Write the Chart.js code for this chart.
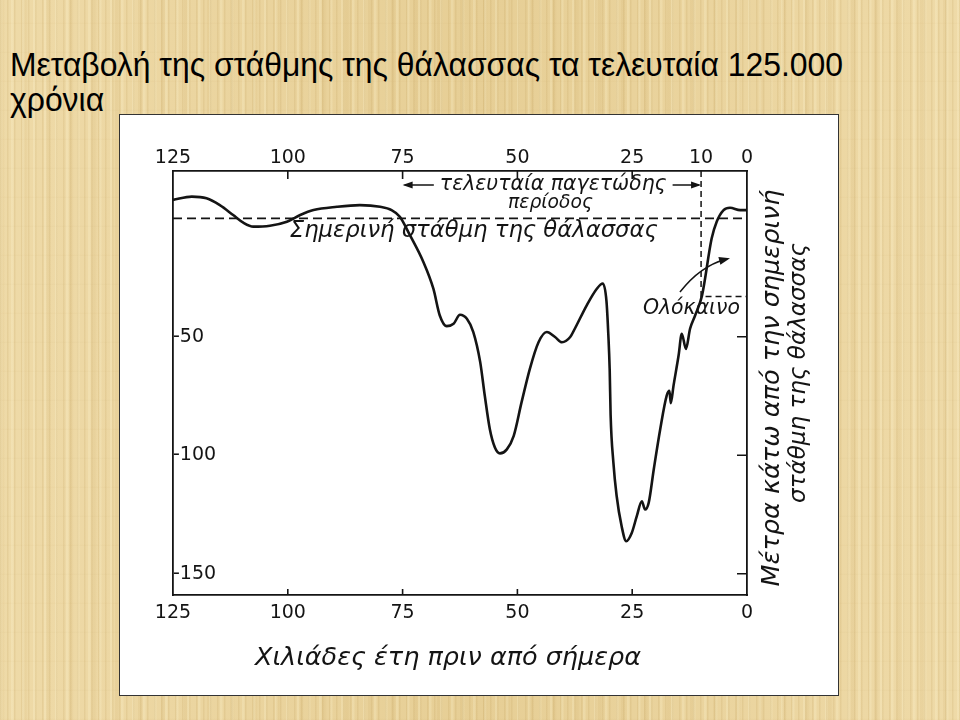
<!DOCTYPE html>
<html>
<head>
<meta charset="utf-8">
<script src="https://cdn.jsdelivr.net/npm/chart.js@4.4.1/dist/chart.umd.min.js"></script>
<style>
html,body{margin:0;padding:0;}
body{
  width:960px;height:720px;position:relative;overflow:hidden;
  background-color:#e9d29b;
  background-image:
    repeating-linear-gradient(90deg, rgba(185,150,80,0.16) 0px, rgba(185,150,80,0.16) 1px, transparent 2px, transparent 7px),
    repeating-linear-gradient(90deg, rgba(255,248,215,0.22) 0px, rgba(255,248,215,0.22) 2px, transparent 3px, transparent 11px),
    repeating-linear-gradient(90deg, rgba(200,165,95,0.12) 0px, rgba(200,165,95,0.12) 3px, transparent 5px, transparent 23px),
    repeating-linear-gradient(0deg, rgba(185,150,80,0.06) 0px, transparent 2px, transparent 29px),
    linear-gradient(90deg, rgba(255,242,205,0.25), rgba(215,185,115,0.15) 50%, rgba(255,242,205,0.25));
}
#title{
  position:absolute;left:10px;top:47px;
  font-family:"Liberation Sans", Arial, sans-serif;font-size:33px;line-height:35px;
  color:#000;white-space:nowrap;transform-origin:0 0;
}
#box{position:absolute;left:119px;top:114px;width:718px;height:580px;border:1px solid #333;background:#fff;}
canvas{display:block;}
</style>
</head>
<body>
<div id="title"><span id="t1">Μεταβολή της στάθμης της θάλασσας τα τελευταία 125.000</span><br>χρόνια</div>
<div id="box"><canvas id="c" width="718" height="580"></canvas></div>
<script>
// ---- data (thousands of years before present, metres relative to present sea level) ----
const years = [125,120.9,117.7,114.8,111.9,109.7,107.5,103.9,100.2,97.3,94.4,89.3,84.3,79.9,77.4,75.6,73.4,70.5,68.3,66.9,65.4,63.9,62.5,61.0,59.6,58.1,57.1,56.0,54.9,53.8,52.3,50.8,49.1,47.3,45.4,43.6,41.8,40.3,38.5,37.5,34.9,32.7,31.4,30.6,30.2,29.9,29.7,29.1,28.4,27.3,26.3,25.1,24.0,22.9,22.2,21.4,20.3,18.9,17.5,16.9,16.6,16.0,14.9,14.2,13.3,12.4,11.3,9.8,7.7,6.6,5.1,3.7,1.5,0];
const seaLevel = [7.8,9.2,8.5,5.6,1.4,-1.8,-3.5,-3.1,-1.4,1.4,3.5,4.9,5.6,4.9,3.5,0.7,-7.1,-18.3,-29.7,-41,-45.5,-44.5,-40.7,-42.4,-48,-60.7,-74.9,-89,-96.7,-99.2,-97.5,-91.8,-77.7,-63.6,-52.3,-48,-50.1,-52.3,-50.1,-46.6,-36.7,-29.7,-27.5,-35,-49,-64,-83,-103,-117,-130,-136.3,-132.8,-125.7,-119.4,-122.9,-120,-105.9,-89,-74.9,-72.8,-78,-70.6,-57.9,-48.7,-55.1,-46.6,-41,-32.6,-8.5,-1.4,3.5,4.5,3.5,3.5];
const topTicks = [125,100,75,50,25,10,0];
const bottomTicks = [125,100,75,50,25,0];
const depthTicks = [-50,-100,-150];
const innerTicksX = [100,75,50,25];
const presentLevel = 0;
const holoceneStart = 10;
const holoceneDepth = -33;
const yearsRange = [0,125];
const depthRange = [-159,20];

// ---- title fit ----
(function(){
  const t = document.getElementById('title');
  const w = document.getElementById('t1').getBoundingClientRect().width;
  t.style.transform = 'scaleX(' + (833 / w) + ')';
})();

const INK = '#141414';
const HAND = '"DejaVu Sans", sans-serif';

function fitFont(ctx, text, width, style) {
  ctx.font = style + ' 20px ' + HAND;
  const w = ctx.measureText(text).width;
  return style + ' ' + (20 * width / w).toFixed(2) + 'px ' + HAND;
}
function arrowHead(ctx, x, y, ang, len, half) {
  ctx.save();
  ctx.translate(x, y); ctx.rotate(ang);
  ctx.beginPath();
  ctx.moveTo(0, 0); ctx.lineTo(-len, -half); ctx.lineTo(-len, half); ctx.closePath();
  ctx.fill();
  ctx.restore();
}

const annotations = {
  id: 'annotations',
  afterDatasetsDraw(chart) {
    const {ctx, chartArea: a, scales} = chart;
    const x = scales.x, y = scales.y;
    ctx.save();
    ctx.fillStyle = INK; ctx.strokeStyle = INK;

    // inward tick marks
    ctx.lineWidth = 1.6;
    ctx.beginPath();
    innerTicksX.forEach(v => {
      const px = x.getPixelForValue(v);
      ctx.moveTo(px, a.top); ctx.lineTo(px, a.top + 8);
      ctx.moveTo(px, a.bottom); ctx.lineTo(px, a.bottom - 6);
    });
    depthTicks.forEach(v => {
      const py = y.getPixelForValue(v);
      ctx.moveTo(a.right, py); ctx.lineTo(a.right - 10, py);
    });
    ctx.stroke();

    // "last glacial period" label with double arrow
    ctx.textAlign = 'center'; ctx.textBaseline = 'alphabetic';
    const t1 = 'τελευταία παγετώδης';
    ctx.font = fitFont(ctx, t1, 227, 'italic');
    const cx1 = x.getPixelForValue(42.2);
    ctx.fillText(t1, cx1, y.getPixelForValue(11.8));
    const tw = ctx.measureText(t1).width;
    const ay = y.getPixelForValue(14.1);
    const xl = x.getPixelForValue(75), xr = x.getPixelForValue(holoceneStart);
    ctx.lineWidth = 1.6;
    ctx.beginPath();
    ctx.moveTo(xl + 2, ay); ctx.lineTo(cx1 - tw / 2 - 6, ay);
    ctx.moveTo(cx1 + tw / 2 + 6, ay); ctx.lineTo(xr - 2, ay);
    ctx.stroke();
    arrowHead(ctx, xl, ay, Math.PI, 10, 3.5);
    arrowHead(ctx, xr, ay, 0, 10, 3.5);

    const t2 = 'περίοδος';
    ctx.font = fitFont(ctx, t2, 85, 'italic');
    ctx.fillText(t2, x.getPixelForValue(42.8), y.getPixelForValue(4.5));

    const t3 = 'Σημερινή στάθμη της θάλασσας';
    ctx.font = fitFont(ctx, t3, 368, 'italic');
    ctx.fillText(t3, x.getPixelForValue(59.5), y.getPixelForValue(-7.8));

    const t4 = 'Ολόκαινο';
    ctx.font = fitFont(ctx, t4, 97, 'italic');
    ctx.fillText(t4, x.getPixelForValue(12.1), y.getPixelForValue(-40.4));

    // Holocene pointer arrow
    const p0 = [x.getPixelForValue(14.6), y.getPixelForValue(-31.1)];
    const pc = [x.getPixelForValue(10.2), y.getPixelForValue(-20.1)];
    const p1 = [x.getPixelForValue(3.7), y.getPixelForValue(-16.8)];
    ctx.lineWidth = 1.5;
    ctx.beginPath();
    ctx.moveTo(p0[0], p0[1]);
    ctx.quadraticCurveTo(pc[0], pc[1], p1[0] - 4, p1[1] + 1);
    ctx.stroke();
    arrowHead(ctx, p1[0], p1[1], Math.atan2(p1[1] - pc[1], p1[0] - pc[0]), 11, 4);

    // axis titles
    const t5 = 'Χιλιάδες έτη πριν από σήμερα';
    ctx.font = fitFont(ctx, t5, 386, 'italic');
    ctx.fillText(t5, 328, 550);

    ctx.textBaseline = 'middle';
    const r1 = 'Μέτρα κάτω από την σημερινή';
    const r2 = 'στάθμη της θάλασσας';
    ctx.save();
    ctx.translate(652, 273); ctx.rotate(-Math.PI / 2);
    ctx.font = fitFont(ctx, r1, 397, 'italic');
    ctx.fillText(r1, 0, 0);
    ctx.restore();
    ctx.save();
    ctx.translate(679, 258); ctx.rotate(-Math.PI / 2);
    ctx.font = fitFont(ctx, r2, 260, 'italic');
    ctx.fillText(r2, 0, 0);
    ctx.restore();

    ctx.restore();
  }
};

const tickFont = {family: '"DejaVu Sans", sans-serif', size: 19};
const borderOpts = {display: true, color: INK, width: 1.8};
const noGrid = {display: false, drawTicks: false};

new Chart(document.getElementById('c'), {
  type: 'line',
  data: {
    datasets: [
      {
        label: 'Στάθμη της θάλασσας',
        data: years.map((v, i) => ({x: v, y: seaLevel[i]})),
        borderColor: INK, borderWidth: 2.6, pointRadius: 0,
        cubicInterpolationMode: 'monotone', fill: false
      },
      {
        label: 'Σημερινή στάθμη',
        data: [{x: yearsRange[1], y: presentLevel}, {x: yearsRange[0], y: presentLevel}],
        borderColor: INK, borderWidth: 1.6, borderDash: [9, 5], pointRadius: 0, fill: false
      },
      {
        label: 'Ολόκαινο',
        data: [{x: holoceneStart, y: depthRange[1]}, {x: holoceneStart, y: holoceneDepth}, {x: yearsRange[0], y: holoceneDepth}],
        borderColor: INK, borderWidth: 1.5, borderDash: [6, 4], pointRadius: 0, fill: false, tension: 0
      }
    ]
  },
  options: {
    responsive: false, animation: false,
    layout: {padding: 0},
    plugins: {legend: {display: false}, tooltip: {enabled: false}},
    scales: {
      x: {
        type: 'linear', position: 'bottom', reverse: true, min: yearsRange[0], max: yearsRange[1],
        afterBuildTicks: s => { s.ticks = bottomTicks.map(v => ({value: v})); },
        afterFit: s => { s.height = 100; },
        grid: noGrid, border: borderOpts,
        ticks: {font: tickFont, color: INK, padding: 7, maxRotation: 0, autoSkip: false, callback: v => String(v)}
      },
      xTop: {
        type: 'linear', position: 'top', reverse: true, min: yearsRange[0], max: yearsRange[1],
        afterBuildTicks: s => { s.ticks = topTicks.map(v => ({value: v})); },
        afterFit: s => { s.height = 56; },
        grid: noGrid, border: borderOpts,
        ticks: {font: tickFont, color: INK, padding: 2, maxRotation: 0, autoSkip: false, callback: v => String(v)}
      },
      y: {
        type: 'linear', position: 'left', min: depthRange[0], max: depthRange[1],
        afterBuildTicks: s => { s.ticks = depthTicks.map(v => ({value: v})); },
        afterFit: s => { s.width = 53; },
        grid: noGrid, border: borderOpts,
        ticks: {font: tickFont, color: INK, mirror: true, padding: 0, callback: v => '-' + Math.abs(v)}
      },
      yRight: {
        type: 'linear', position: 'right', min: depthRange[0], max: depthRange[1],
        afterFit: s => { s.width = 91; },
        grid: noGrid, border: borderOpts,
        ticks: {display: false}
      }
    }
  },
  plugins: [annotations]
});
</script>
</body>
</html>
